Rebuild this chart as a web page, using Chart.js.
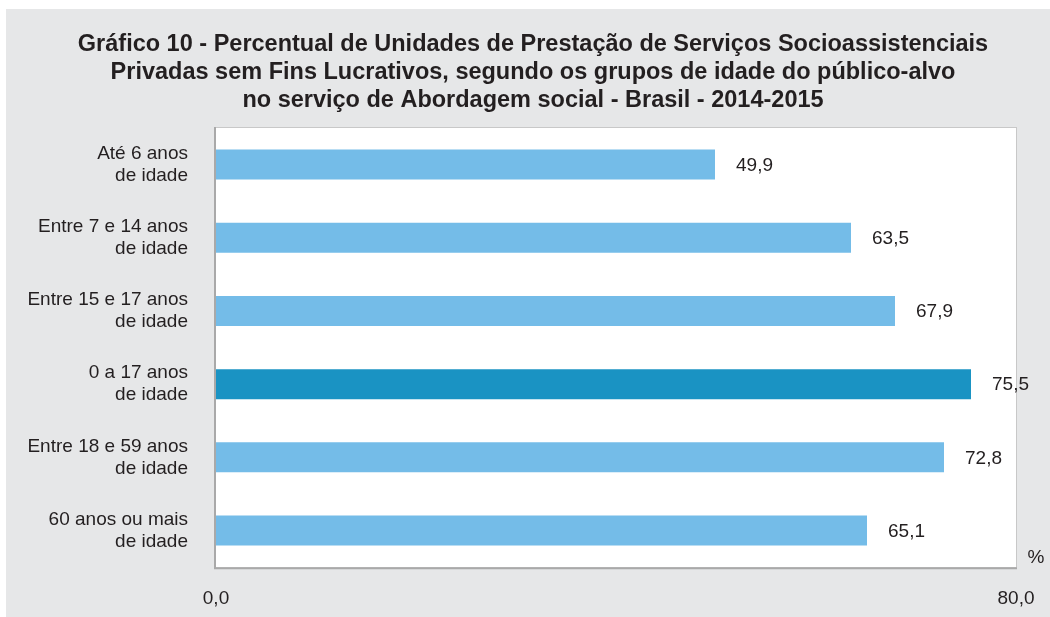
<!DOCTYPE html>
<html>
<head>
<meta charset="utf-8">
<script src="https://cdn.jsdelivr.net/npm/chart.js@4/dist/chart.umd.min.js"></script>
<style>
  html, body { margin: 0; padding: 0; background: #fff; }
  #wrap { width: 1050px; height: 617px; position: relative; }
</style>
</head>
<body>
<div id="wrap"><canvas id="barChart" width="1050" height="617"></canvas></div>
<script>
const titleLines = [
  "Gráfico 10 - Percentual de Unidades de Prestação de Serviços Socioassistenciais",
  "Privadas sem Fins Lucrativos, segundo os grupos de idade do público-alvo",
  "no serviço de Abordagem social - Brasil - 2014-2015"
];
const ageGroups = [
  ["Até 6 anos", "de idade"],
  ["Entre 7 e 14 anos", "de idade"],
  ["Entre 15 e 17 anos", "de idade"],
  ["0 a 17 anos", "de idade"],
  ["Entre 18 e 59 anos", "de idade"],
  ["60 anos ou mais", "de idade"]
];
const percentages = [49.9, 63.5, 67.9, 75.5, 72.8, 65.1];
const highlightIndex = 3;
const axisTicks = [0, 80];

const FONT = "'Liberation Sans', Arial, sans-serif";
const TEXT = "#231f20";
const fmt = (v) => v.toFixed(1).replace(".", ",");

// grey panel, white plot box, title and unit
const framePlugin = {
  id: "frame",
  beforeDraw(chart) {
    const { ctx, chartArea: a } = chart;
    ctx.save();
    ctx.fillStyle = "#fff";
    ctx.fillRect(0, 0, chart.width, chart.height);
    ctx.fillStyle = "#e6e7e8";
    ctx.fillRect(6, 9, chart.width - 6, chart.height - 9);

    ctx.fillStyle = "#fff";
    ctx.fillRect(a.left, a.top, a.right - a.left, a.bottom - a.top);
    ctx.strokeStyle = "#c8c8c8";
    ctx.lineWidth = 1;
    ctx.strokeRect(a.left - 0.5, a.top - 0.5, a.right - a.left + 1, a.bottom - a.top + 1);
    ctx.strokeStyle = "#a9a9a9";
    ctx.lineWidth = 2;
    ctx.beginPath();
    ctx.moveTo(a.left - 1, a.top - 1);
    ctx.lineTo(a.left - 1, a.bottom + 1);
    ctx.lineTo(a.right + 1, a.bottom + 1);
    ctx.stroke();

    ctx.fillStyle = TEXT;
    ctx.font = "bold 23.5px " + FONT;
    ctx.textAlign = "center";
    ctx.textBaseline = "alphabetic";
    titleLines.forEach((line, i) => ctx.fillText(line, 533, 51 + i * 28));

    ctx.font = "19px " + FONT;
    ctx.fillText("%", 1036, 563);
    ctx.restore();
  },
  afterDatasetsDraw(chart) {
    const { ctx } = chart;
    const meta = chart.getDatasetMeta(0);
    ctx.save();
    ctx.fillStyle = TEXT;
    ctx.font = "19px " + FONT;
    ctx.textAlign = "left";
    ctx.textBaseline = "middle";
    meta.data.forEach((bar, i) => {
      ctx.fillText(fmt(percentages[i]), bar.x + 21, bar.y + 1);
    });
    ctx.restore();
  }
};

new Chart(document.getElementById("barChart").getContext("2d"), {
  type: "bar",
  data: {
    labels: ageGroups,
    datasets: [
      {
        data: percentages,
        backgroundColor: percentages.map((_, i) =>
          i === highlightIndex ? "#1a93c3" : "#74bce8"
        ),
        barPercentage: 0.41,
        categoryPercentage: 1
      }
    ]
  },
  options: {
    indexAxis: "y",
    responsive: false,
    animation: false,
    layout: { padding: { left: 6, top: 128, right: 34, bottom: 0 } },
    plugins: {
      legend: { display: false },
      tooltip: { enabled: false }
    },
    scales: {
      x: {
        min: 0,
        max: 80,
        afterBuildTicks: (s) => { s.ticks = axisTicks.map((v) => ({ value: v })); },
        afterFit: (s) => {
          s.height = 48;
          s.paddingLeft = 0;
          s.paddingRight = 0;
        },
        grid: { display: false, drawTicks: false },
        border: { display: false },
        ticks: {
          padding: 20,
          color: TEXT,
          font: { family: FONT, size: 19 },
          maxRotation: 0,
          callback: (v) => fmt(v)
        }
      },
      y: {
        afterFit: (s) => { s.width = 210; },
        grid: { display: false, drawTicks: false },
        border: { display: false },
        ticks: {
          padding: 28,
          color: TEXT,
          font: { family: FONT, size: 19, lineHeight: 1.15 }
        }
      }
    }
  },
  plugins: [framePlugin]
});
</script>
</body>
</html>
